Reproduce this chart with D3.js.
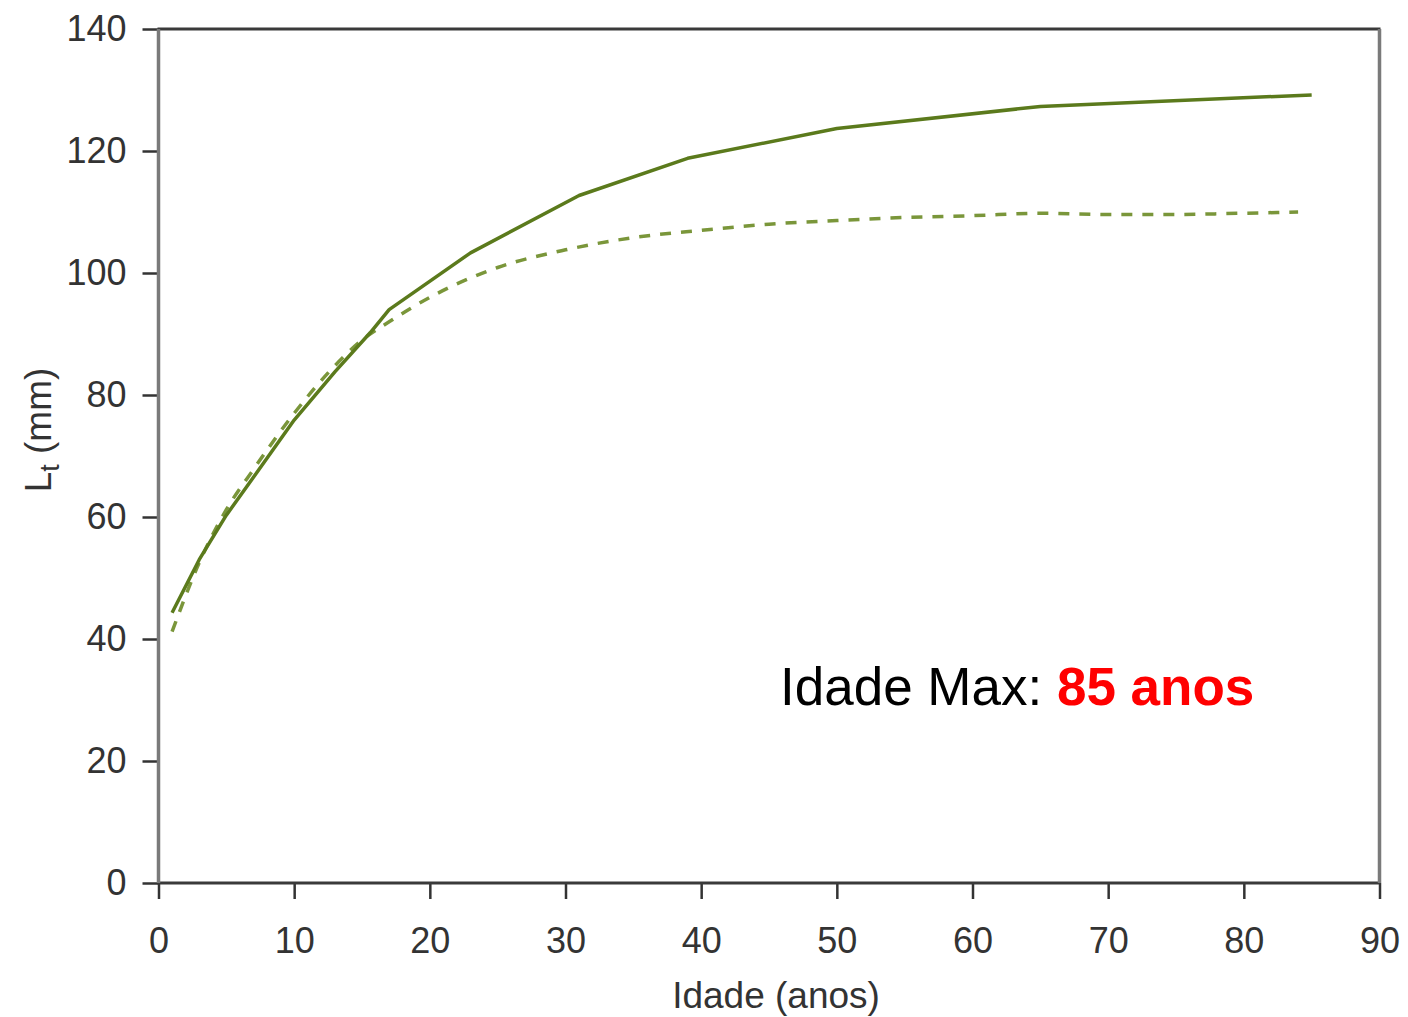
<!DOCTYPE html>
<html>
<head>
<meta charset="utf-8">
<script src="https://cdn.jsdelivr.net/npm/d3@7"></script>
<style>
  body { margin: 0; background: #fff; }
  svg { display: block; }
</style>
</head>
<body>
<svg id="chart" width="1408" height="1017"></svg>
<script>
// growth curves, Lt (mm) by age (years)
const solidAges = [1, 3, 5, 7, 10, 13, 15.6, 17, 23, 31, 39, 50, 65, 85];
const solidLen = [44.3, 53.0, 60.3, 66.5, 75.9, 83.8, 90.2, 94.0, 103.3, 112.7, 118.8, 123.7, 127.3, 129.2];

const dashedAges = [1, 3, 5, 7, 10, 13, 15, 17, 20, 25, 30, 35, 40, 45, 50, 55, 60, 65, 70, 75, 80, 84];
const dashedLen = [41.2, 52.5, 61.2, 67.8, 77.0, 84.8, 89.0, 92.0, 96.0, 100.9, 103.8, 105.8, 107.0, 108.0, 108.6, 109.1, 109.4, 109.8, 109.6, 109.6, 109.8, 110.0];

const xTicks = [0, 10, 20, 30, 40, 50, 60, 70, 80, 90];
const yTicks = [0, 20, 40, 60, 80, 100, 120, 140];

const margin = { left: 158.5, right: 28.5, top: 29, bottom: 134 };
const W = 1408, H = 1017;

const svg = d3.select('#chart');
const x = d3.scaleLinear().domain([0, 90]).range([margin.left, W - margin.right]);
const y = d3.scaleLinear().domain([0, 140]).range([H - margin.bottom, margin.top]);

const font = '"Liberation Sans", Arial, sans-serif';

// y axis
const yAxis = svg.append('g')
  .attr('transform', 'translate(' + margin.left + ',0)')
  .call(d3.axisLeft(y).tickValues(yTicks).tickSize(16).tickPadding(16));
yAxis.select('.domain').remove();
yAxis.selectAll('line').attr('stroke', '#333').attr('stroke-width', 2.5);
yAxis.selectAll('text')
  .attr('fill', '#333')
  .style('font-family', font)
  .style('font-size', '36px');

// x axis
const xAxis = svg.append('g')
  .attr('transform', 'translate(0,' + y(0) + ')')
  .call(d3.axisBottom(x).tickValues(xTicks).tickSize(16).tickPadding(28));
xAxis.select('.domain').remove();
xAxis.selectAll('line').attr('stroke', '#333').attr('stroke-width', 2.5);
xAxis.selectAll('text')
  .attr('fill', '#333')
  .attr('dy', '0.71em')
  .style('font-family', font)
  .style('font-size', '36px');

// frame: horizontal edges dark, vertical edges grey
svg.append('line')
  .attr('x1', x(0) - 1).attr('x2', x(90) + 1)
  .attr('y1', y(140)).attr('y2', y(140))
  .attr('stroke', '#3a3a3a').attr('stroke-width', 3);
svg.append('line')
  .attr('x1', x(0) - 1).attr('x2', x(90) + 1)
  .attr('y1', y(0)).attr('y2', y(0))
  .attr('stroke', '#3a3a3a').attr('stroke-width', 3);
svg.append('line')
  .attr('x1', x(0)).attr('x2', x(0))
  .attr('y1', y(140)).attr('y2', y(0))
  .attr('stroke', '#7a7a7a').attr('stroke-width', 3.5);
svg.append('line')
  .attr('x1', x(90)).attr('x2', x(90))
  .attr('y1', y(140)).attr('y2', y(0))
  .attr('stroke', '#7a7a7a').attr('stroke-width', 3.5);

// curves
const solidData = solidAges.map((a, i) => [a, solidLen[i]]);
const dashedData = dashedAges.map((a, i) => [a, dashedLen[i]]);

svg.append('path')
  .datum(dashedData)
  .attr('fill', 'none')
  .attr('stroke', '#7a963a')
  .attr('stroke-width', 3.5)
  .attr('stroke-dasharray', '11,10')
  .attr('d', d3.line().x(d => x(d[0])).y(d => y(d[1])).curve(d3.curveMonotoneX));

svg.append('path')
  .datum(solidData)
  .attr('fill', 'none')
  .attr('stroke', '#5b7a1c')
  .attr('stroke-width', 3.5)
  .attr('stroke-linejoin', 'round')
  .attr('d', d3.line().x(d => x(d[0])).y(d => y(d[1])));

// axis titles
svg.append('text')
  .attr('x', 776).attr('y', 1008)
  .attr('text-anchor', 'middle')
  .attr('fill', '#333')
  .style('font-family', font)
  .style('font-size', '37px')
  .text('Idade (anos)');

const yTitle = svg.append('text')
  .attr('transform', 'translate(51,430) rotate(-90)')
  .attr('text-anchor', 'middle')
  .attr('fill', '#333')
  .style('font-family', font)
  .style('font-size', '37px');
yTitle.append('tspan').text('L');
yTitle.append('tspan').attr('dy', 8).style('font-size', '27px').text('t');
yTitle.append('tspan').attr('dy', -8).text(' (mm)');

// annotation
const note = svg.append('text')
  .attr('x', 780).attr('y', 705)
  .style('font-family', font)
  .style('font-size', '53px');
note.append('tspan').attr('fill', '#000').text('Idade Max: ');
note.append('tspan').attr('fill', '#ff0000').attr('font-weight', 'bold').text('85 anos');
</script>
</body>
</html>
